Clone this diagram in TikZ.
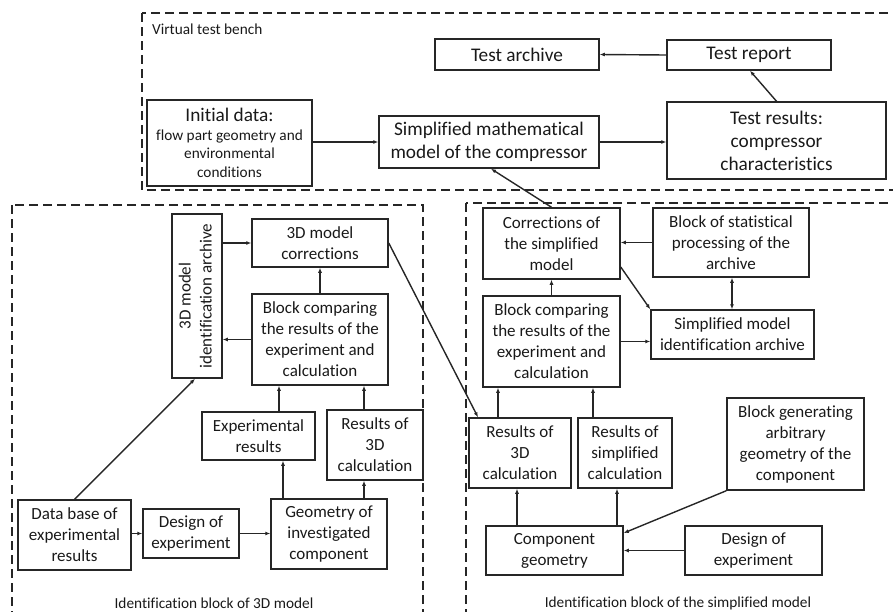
\documentclass[tikz,border=0pt]{standalone}
\usepackage{fontspec}
\usepackage{graphicx}
\setmainfont[RawFeature={-liga}]{Carlito}
\usetikzlibrary{arrows.meta}
\begin{document}
\begin{tikzpicture}[x=1pt,y=-1pt,
 box/.style={draw=black!85, line width=1.5pt, align=center, inner sep=1pt, text=black!90, font=\fontsize{17}{21}\selectfont},
 bigbox/.style={box, font=\fontsize{19.3}{23}\selectfont},
 region/.style={draw=black!85, line width=1.3pt, dash pattern=on 9pt off 5pt},
 arr/.style={draw=black!85, -{Latex[length=5pt,width=4pt]}, line width=1.4pt},
 darr/.style={draw=black!85, {Latex[length=5pt,width=4pt]}-{Latex[length=5pt,width=4pt]}, line width=1.4pt},
 lbl/.style={font=\fontsize{15.3}{18}\selectfont, inner sep=0pt, text=black!90},
]
\useasboundingbox (0,0) rectangle (893,611);

% regions
\draw[region] (142,13) rectangle (905,190);
\draw[region] (12,205) rectangle (423,640);
\draw[region] (466,203) rectangle (905,640);
\node[lbl, anchor=base west] (vtb) at (152,34) {Virtual test bench};
\node[lbl, anchor=base] (idl) at (214,608) {Identification block of 3D model};
\node[lbl, anchor=base] (idr) at (678,607) {Identification block of the simplified model};

% virtual test bench
\node[box, minimum width=165, minimum height=86, font=\fontsize{15.3}{18.5}\selectfont] (ini) at (229.5,143)
  {{\fontsize{19.3}{23}\selectfont Initial data:}\\flow part geometry and\\environmental\\conditions};
\node[bigbox, minimum width=220, minimum height=52] (simp) at (489,142) {Simplified mathematical\\model of the compressor};
\node[bigbox, minimum width=164, minimum height=31] (tarch) at (517,54.5) {Test archive};
\node[bigbox, minimum width=164, minimum height=30] (trep) at (749,55) {Test report};
\node[bigbox, minimum width=219, minimum height=77] (tres) at (776.5,140.5) {Test results:\\compressor\\characteristics};

% 3D model block
\node[box, minimum width=50, minimum height=164] (arch3d) at (197,296)
  {\rotatebox{90}{\begin{tabular}{@{}c@{}}3D model\\identification archive\end{tabular}}};
\node[box, minimum width=136, minimum height=48] (corr3d) at (320,243) {3D model\\corrections};
\node[box, minimum width=136, minimum height=91] (cmp3d) at (320,339.5) {Block comparing\\the results of the\\experiment and\\calculation};
\node[box, minimum width=113, minimum height=48] (exp) at (258.5,436) {Experimental\\results};
\node[box, minimum width=96, minimum height=70] (res3dL) at (375,445) {Results of\\3D\\calculation};
\node[box, minimum width=113, minimum height=70] (db) at (74.5,535) {Data base of\\experimental\\results};
\node[box, minimum width=96, minimum height=49] (doeL) at (191,533.5) {Design of\\experiment};
\node[box, minimum width=116, minimum height=70] (geom) at (329,534) {Geometry of\\investigated\\component};

% simplified model block
\node[box, minimum width=137, minimum height=71] (corrS) at (551.5,243.5) {Corrections of\\the simplified\\model};
\node[box, minimum width=156, minimum height=69] (stat) at (731,242.5) {Block of statistical\\processing of the\\archive};
\node[box, minimum width=137, minimum height=91] (cmpS) at (551.5,341.5) {Block comparing\\the results of the\\experiment and\\calculation};
\node[box, minimum width=163, minimum height=49] (sarch) at (732.5,334.5) {Simplified model\\identification archive};
\node[box, minimum width=102, minimum height=70] (res3dR) at (520,453) {Results of\\3D\\calculation};
\node[box, minimum width=94, minimum height=70] (resS) at (625,453) {Results of\\simplified\\calculation};
\node[box, minimum width=137, minimum height=92] (gen) at (795.5,444) {Block generating\\arbitrary\\geometry of the\\component};
\node[box, minimum width=137, minimum height=49] (cg) at (554.5,550.5) {Component\\geometry};
\node[box, minimum width=137, minimum height=49] (doeR) at (753.5,550.5) {Design of\\experiment};

% connectors: top
\draw[arr] (ini.east |- simp.west) -- (simp.west);
\draw[arr] (simp.east) -- (tres.west |- simp.east);
\draw[arr] (trep.west) -- (tarch.east);
\draw[arr] (tres.north) -- (trep.south -| 750,0);
\draw[arr] (corrS.north) -- (simp.south -| 491,0);

% connectors: 3D block
\draw[arr] (arch3d.east |- corr3d.west) -- (corr3d.west);
\draw[arr] (cmp3d.west) -- (arch3d.east |- cmp3d.west);
\draw[arr] (cmp3d.north) -- (corr3d.south);
\draw[arr] (exp.north -| 279,0) -- (cmp3d.south -| 279,0);
\draw[arr] (res3dL.north -| 364,0) -- (cmp3d.south -| 364,0);
\draw[arr] (geom.north -| 283,0) -- (exp.south -| 283,0);
\draw[arr] (geom.north -| 364,0) -- (res3dL.south -| 364,0);
\draw[arr] (db.east |- doeL.west) -- (doeL.west);
\draw[arr] (doeL.east) -- (geom.west |- doeL.east);
\draw[arr] (db.north) -- (arch3d.south -| 195,0);
\draw[arr] (corr3d.east) -- (res3dR.north -| 478,0);

% connectors: simplified block
\draw[arr] (stat.west) -- (corrS.east |- stat.west);
\draw[arr] (cmpS.north) -- (corrS.south);
\draw[arr] (cmpS.east) -- (sarch.west |- cmpS.east);
\draw[arr] (corrS.east |- 0,267) -- (sarch.north west);
\draw[darr] (stat.south -| 732,0) -- (sarch.north -| 732,0);
\draw[arr] (res3dR.north -| 498,0) -- (cmpS.south -| 498,0);
\draw[arr] (resS.north -| 593,0) -- (cmpS.south -| 593,0);
\draw[arr] (cg.north -| 517,0) -- (res3dR.south -| 517,0);
\draw[arr] (cg.north -| 617,0) -- (resS.south -| 617,0);
\draw[arr] (doeR.west) -- (cg.east);
\draw[arr] (gen.south west) -- (cg.east |- 0,533);
\end{tikzpicture}
\end{document}
